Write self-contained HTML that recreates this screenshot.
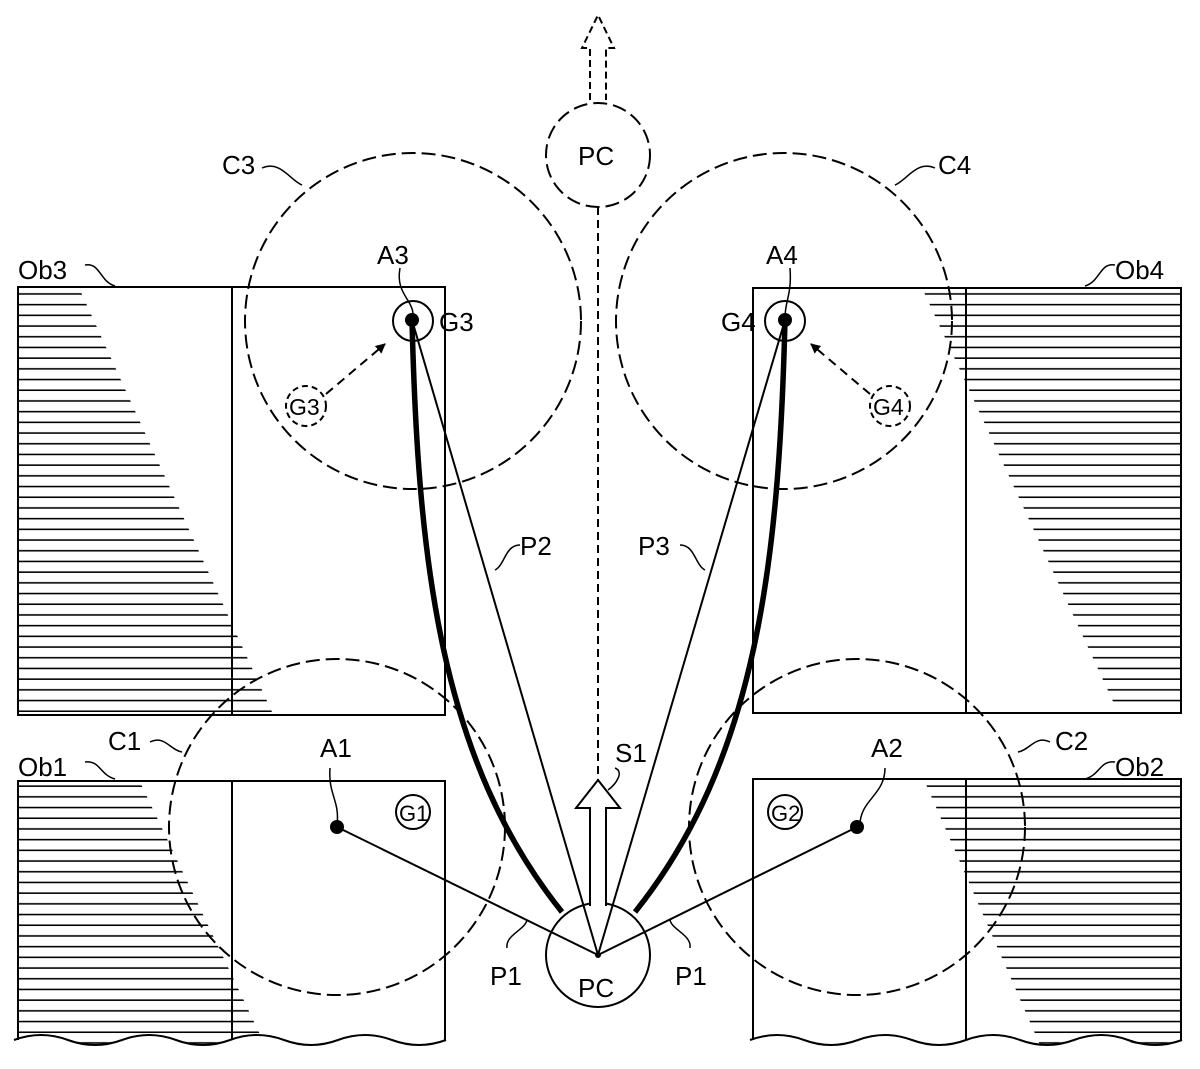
<!DOCTYPE html>
<html><head><meta charset="utf-8"><style>
html,body{margin:0;padding:0;background:#fff}
svg{display:block}
text{font-family:"Liberation Sans",sans-serif;font-size:26px;fill:#000}
</style></head><body>
<svg width="1200" height="1069" viewBox="0 0 1200 1069" xmlns="http://www.w3.org/2000/svg">
<defs>
<pattern id="h" patternUnits="userSpaceOnUse" width="1200" height="10.7">
<line x1="0" y1="5" x2="1200" y2="5" stroke="#000" stroke-width="1.6"/>
</pattern>
<marker id="ar" markerWidth="10" markerHeight="10" refX="9" refY="5" orient="auto" markerUnits="userSpaceOnUse">
<path d="M0,0 L10,5 L0,10 z" fill="#000"/>
</marker>
</defs>
<g fill="none" stroke="#000" stroke-width="2">
<polygon points="18,290 80,290 272,712 18,712" fill="url(#h)" stroke="none"/>
<polygon points="18,782 140,782 265,1045 18,1045" fill="url(#h)" stroke="none"/>
<polygon points="925,782 1181,782 1181,1045 1040,1045" fill="url(#h)" stroke="none"/>
<polygon points="923,290 1181,290 1181,708 1116,708" fill="url(#h)" stroke="none"/>
<rect x="18" y="287" width="427" height="428"/>
<line x1="232" y1="287" x2="232" y2="715"/>
<rect x="753" y="288" width="428" height="425"/>
<line x1="966" y1="288" x2="966" y2="713"/>
<path d="M10,1069 L10,1040 Q37,1030 64,1040 T118,1040 T172,1040 T226,1040 T280,1040 T334,1040 T388,1040 T442,1040 T496,1040 L496,1069 Z" fill="#fff" stroke="none"/>
<path d="M745,1069 L745,1040 Q772,1030 799,1040 T853,1040 T907,1040 T961,1040 T1015,1040 T1069,1040 T1123,1040 T1177,1040 T1231,1040 L1231,1069 Z" fill="#fff" stroke="none"/>
<path d="M18,1040 L18,781 L445,781 L445,1040 M232,781 L232,1040"/>
<path d="M753,1040 L753,779 L1181,779 L1181,1040 M966,779 L966,1040"/>
<path d="M14,1040 Q41,1030 68,1040 T122,1040 T176,1040 T230,1040 T284,1040 T338,1040 T392,1040 T446,1040"/>
<path d="M750,1040 Q777,1030 804,1040 T858,1040 T912,1040 T966,1040 T1020,1040 T1074,1040 T1128,1040 T1182,1040"/>
<g stroke-dasharray="14,6">
<circle cx="413" cy="321" r="168"/>
<circle cx="784" cy="321" r="168"/>
<circle cx="337" cy="827" r="168"/>
<circle cx="857" cy="827" r="168"/>
<circle cx="598" cy="155" r="52"/>
<circle cx="306" cy="406" r="20" stroke-dasharray="6,4"/>
<circle cx="890" cy="406" r="20" stroke-dasharray="6,4"/>
<line x1="598" y1="207" x2="598" y2="785" stroke-dasharray="8,5"/>
<path d="M590,100 L590,48 L582,48 L598,15 L614,48 L606,48 L606,100" stroke-dasharray="7,4"/>
<line x1="326" y1="394" x2="385" y2="344" marker-end="url(#ar)" stroke-dasharray="9,6"/>
<line x1="870" y1="394" x2="811" y2="344" marker-end="url(#ar)" stroke-dasharray="9,6"/>
</g>
<circle cx="598" cy="955" r="52" fill="#fff"/>
<circle cx="413" cy="321" r="20"/>
<circle cx="785" cy="321" r="20"/>
<circle cx="413" cy="812" r="17"/>
<circle cx="785" cy="812" r="17"/>
<path d="M590,906 L590,808 L576,808 L598,780 L620,808 L606,808 L606,906" fill="#fff"/>
<line x1="412" y1="320" x2="598" y2="955"/>
<line x1="785" y1="320" x2="598" y2="955"/>
<line x1="337" y1="827" x2="598" y2="955"/>
<line x1="857" y1="827" x2="598" y2="955"/>
<path d="M412,320 C418,560 440,760 562,912" stroke-width="5.5"/>
<path d="M785,320 C779,560 757,760 635,912" stroke-width="5.5"/>
<path d="M85,265 C100,262 100,282 115,286" stroke-width="1.5"/>
<path d="M1115,265 C1100,262 1100,282 1085,286" stroke-width="1.5"/>
<path d="M85,762 C100,760 100,775 115,779" stroke-width="1.5"/>
<path d="M1115,762 C1100,760 1100,775 1085,779" stroke-width="1.5"/>
<path d="M262,168 C280,160 290,180 302,185" stroke-width="1.5"/>
<path d="M935,168 C917,160 907,180 895,185" stroke-width="1.5"/>
<path d="M150,742 C165,735 170,750 182,752" stroke-width="1.5"/>
<path d="M1050,742 C1035,735 1030,750 1018,752" stroke-width="1.5"/>
<path d="M400,268 C395,295 415,300 413,318" stroke-width="1.5"/>
<path d="M790,268 C792,295 785,300 785,318" stroke-width="1.5"/>
<path d="M330,768 C328,795 340,800 337,825" stroke-width="1.5"/>
<path d="M885,768 C885,795 860,800 860,825" stroke-width="1.5"/>
<path d="M520,545 C505,545 505,565 495,570" stroke-width="1.5"/>
<path d="M680,545 C695,545 695,565 705,570" stroke-width="1.5"/>
<path d="M615,768 C625,772 615,785 608,790" stroke-width="1.5"/>
<path d="M507,948 C505,935 525,930 527,920" stroke-width="1.5"/>
<path d="M690,948 C692,935 672,930 670,920" stroke-width="1.5"/>
</g>
<g fill="#000">
<circle cx="412" cy="320" r="7"/>
<circle cx="785" cy="320" r="7"/>
<circle cx="337" cy="827" r="7"/>
<circle cx="857" cy="827" r="7"/>
<circle cx="598" cy="955" r="3"/>
</g>
<text x="18" y="279">Ob3</text>
<text x="1115" y="279">Ob4</text>
<text x="18" y="776">Ob1</text>
<text x="1115" y="776">Ob2</text>
<text x="222" y="174">C3</text>
<text x="938" y="174">C4</text>
<text x="108" y="750">C1</text>
<text x="1055" y="750">C2</text>
<text x="377" y="264">A3</text>
<text x="766" y="264">A4</text>
<text x="320" y="757">A1</text>
<text x="871" y="757">A2</text>
<text x="439" y="331">G3</text>
<text x="721" y="331">G4</text>
<text x="289" y="415" style="font-size:23px">G3</text>
<text x="873" y="415" style="font-size:23px">G4</text>
<text x="399" y="821" style="font-size:22px">G1</text>
<text x="771" y="821" style="font-size:22px">G2</text>
<text x="520" y="555">P2</text>
<text x="638" y="555">P3</text>
<text x="615" y="762">S1</text>
<text x="490" y="985">P1</text>
<text x="675" y="985">P1</text>
<text x="578" y="997">PC</text>
<text x="578" y="165">PC</text>
</svg>
</body></html>
